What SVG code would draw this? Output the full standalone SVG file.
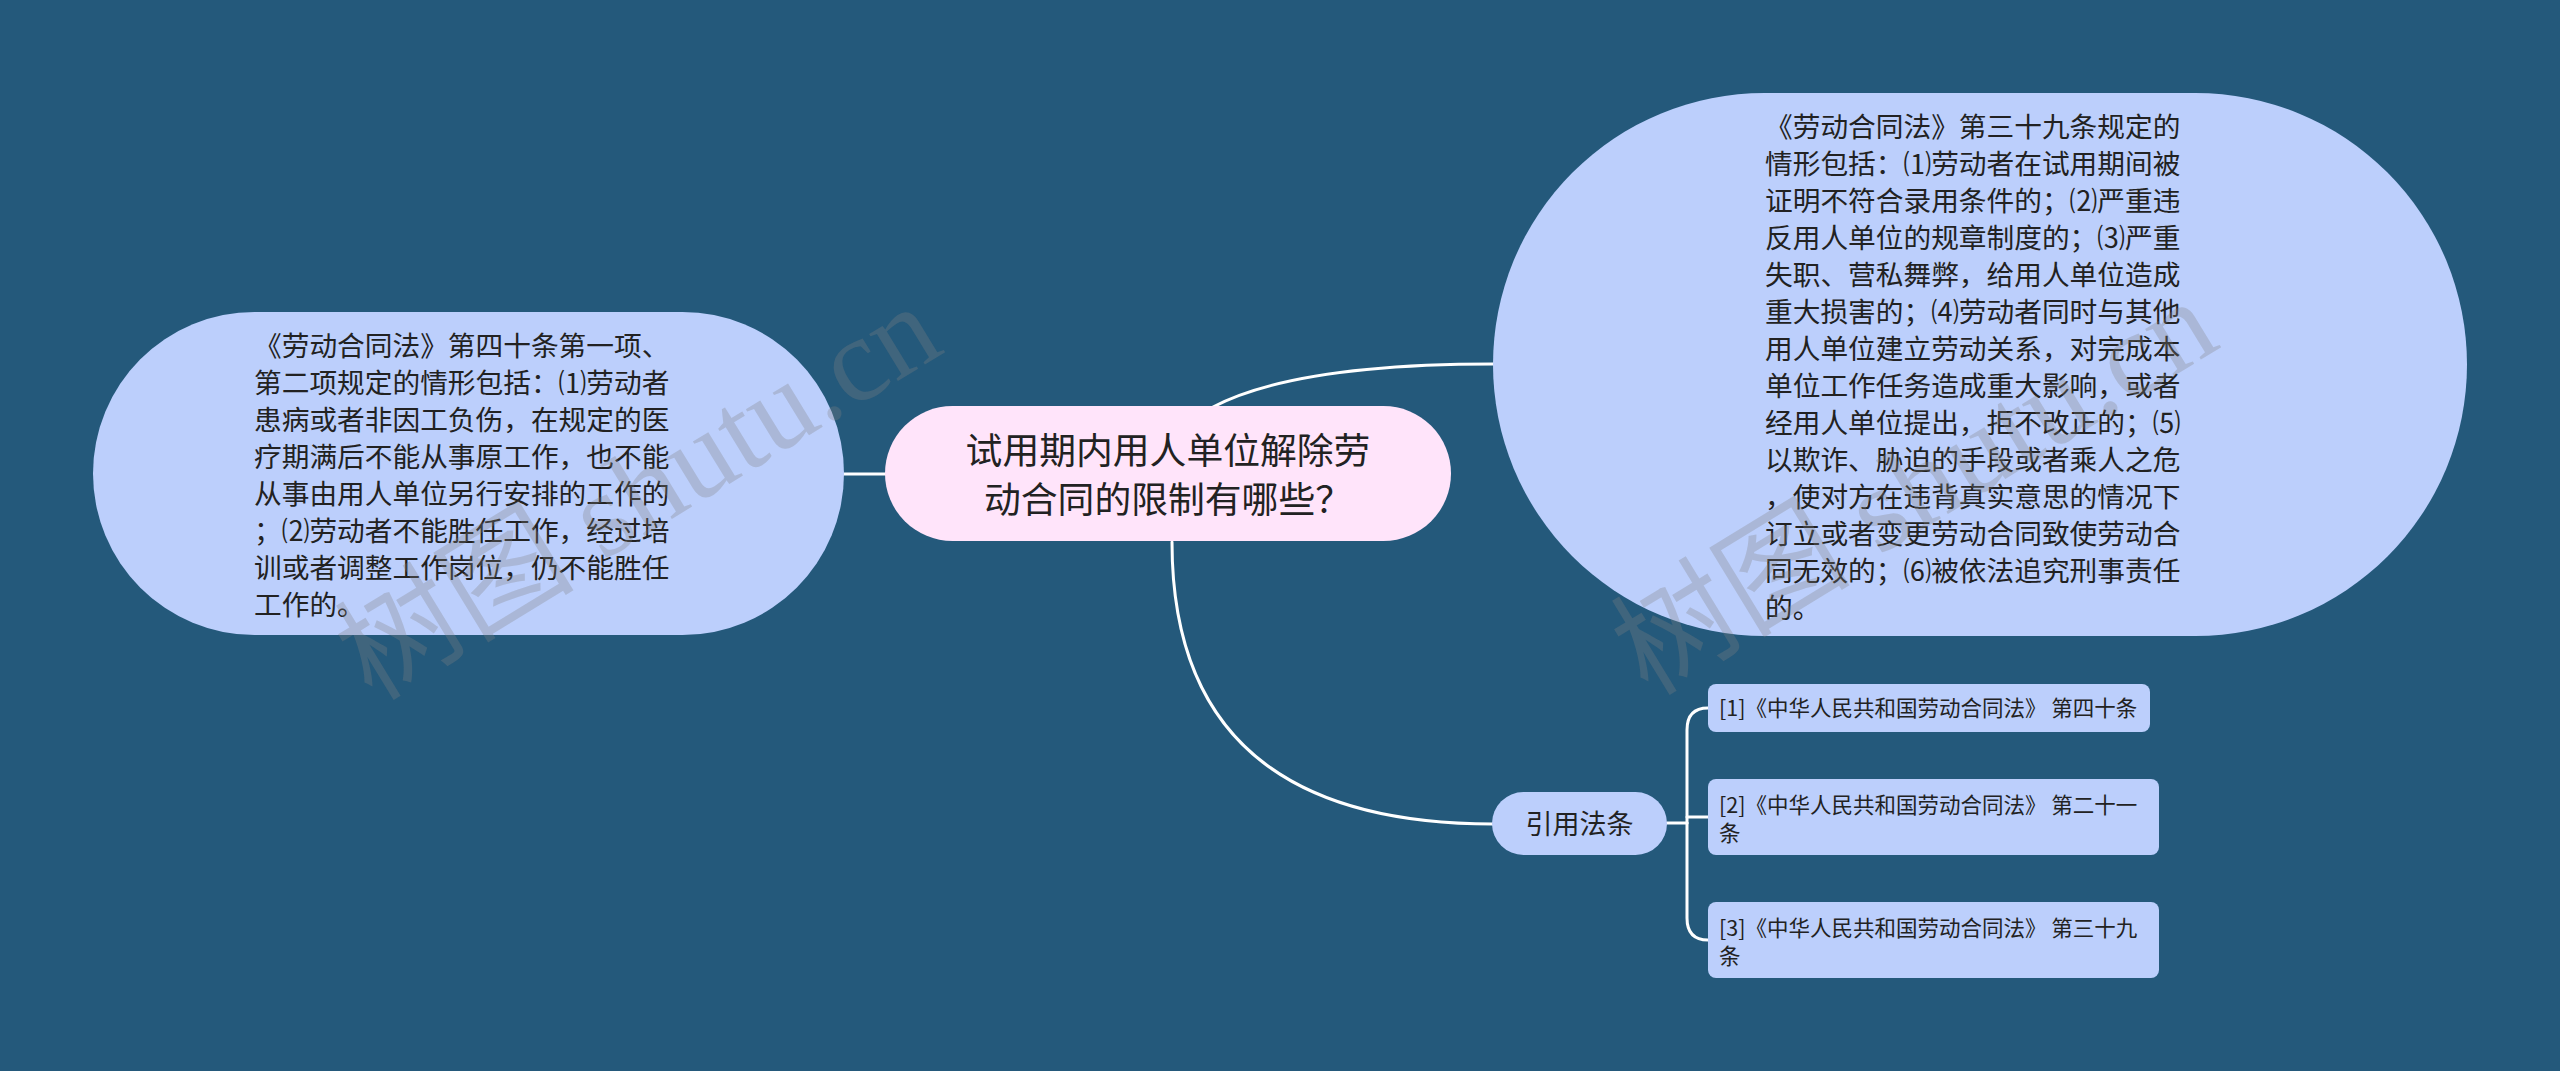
<svg xmlns="http://www.w3.org/2000/svg" width="2560" height="1071" viewBox="0 0 2560 1071">
<defs>
<style>
.bg{fill:#24597b}
.blue{fill:#bccffc}
.pink{fill:#ffe4fa}
.conn{fill:none;stroke:#ffffff;stroke-width:3;stroke-linecap:round}
.t{font-family:"Noto Sans CJK SC","Noto Sans",sans-serif;fill:#222222}
.big{font-size:27.7px}
.main{font-size:36.8px;text-anchor:middle}
.sub{font-size:27px;text-anchor:middle}
.ref{font-size:21.5px}
.wm{font-family:"Liberation Serif","Noto Sans CJK SC",serif;font-size:120px;fill:#808080;fill-opacity:0.3}
</style>
</defs>
<rect class="bg" x="0" y="0" width="2560" height="1071"/>

<g id="connectors">
<path class="conn" d="M844,474 L885,474"/>
<path class="conn" d="M1213,407 Q1295,364 1493,364"/>
<path class="conn" d="M1172,542 Q1172,824 1493,824"/>
<path class="conn" d="M1667,823 L1687,823"/>
<path class="conn" d="M1687,823 L1687,730 Q1687,708 1708,708"/>
<path class="conn" d="M1687,817 L1708,817"/>
<path class="conn" d="M1687,823 L1687,918 Q1687,940 1708,940"/>
</g>

<g id="node-root">
<rect class="pink" x="885" y="406" width="566" height="135" rx="67.5"/>
<text class="t main"><tspan x="1168" y="464">试用期内用人单位解除劳</tspan><tspan x="1168" y="513">动合同的限制有哪些？</tspan></text>
</g>

<g id="node-left">
<rect class="blue" x="93" y="312" width="751" height="323" rx="161.5"/>
<text class="t big">
<tspan x="254" y="356">《劳动合同法》第四十条第一项、</tspan>
<tspan x="254" y="393">第二项规定的情形包括：⑴劳动者</tspan>
<tspan x="254" y="430">患病或者非因工负伤，在规定的医</tspan>
<tspan x="254" y="467">疗期满后不能从事原工作，也不能</tspan>
<tspan x="254" y="504">从事由用人单位另行安排的工作的</tspan>
<tspan x="254" y="541">；⑵劳动者不能胜任工作，经过培</tspan>
<tspan x="254" y="578">训或者调整工作岗位，仍不能胜任</tspan>
<tspan x="254" y="615">工作的。</tspan>
</text>
</g>

<g id="node-right">
<rect class="blue" x="1493" y="93" width="974" height="543" rx="271.5"/>
<text class="t big">
<tspan x="1765" y="137">《劳动合同法》第三十九条规定的</tspan>
<tspan x="1765" y="174">情形包括：⑴劳动者在试用期间被</tspan>
<tspan x="1765" y="211">证明不符合录用条件的；⑵严重违</tspan>
<tspan x="1765" y="248">反用人单位的规章制度的；⑶严重</tspan>
<tspan x="1765" y="285">失职、营私舞弊，给用人单位造成</tspan>
<tspan x="1765" y="322">重大损害的；⑷劳动者同时与其他</tspan>
<tspan x="1765" y="359">用人单位建立劳动关系，对完成本</tspan>
<tspan x="1765" y="396">单位工作任务造成重大影响，或者</tspan>
<tspan x="1765" y="433">经用人单位提出，拒不改正的；⑸</tspan>
<tspan x="1765" y="470">以欺诈、胁迫的手段或者乘人之危</tspan>
<tspan x="1765" y="507">，使对方在违背真实意思的情况下</tspan>
<tspan x="1765" y="544">订立或者变更劳动合同致使劳动合</tspan>
<tspan x="1765" y="581">同无效的；⑹被依法追究刑事责任</tspan>
<tspan x="1765" y="618">的。</tspan>
</text>
</g>

<g id="node-cite">
<rect class="blue" x="1492" y="792" width="175" height="63" rx="31.5"/>
<text class="t sub" x="1579.5" y="834">引用法条</text>
</g>

<g id="node-ref1">
<rect class="blue" x="1708" y="684" width="442" height="48" rx="8"/>
<text class="t ref" x="1719" y="716">[1]《中华人民共和国劳动合同法》 第四十条</text>
</g>

<g id="node-ref2">
<rect class="blue" x="1708" y="779" width="451" height="76" rx="8"/>
<text class="t ref"><tspan x="1719" y="813">[2]《中华人民共和国劳动合同法》 第二十一</tspan><tspan x="1719" y="841">条</tspan></text>
</g>

<g id="node-ref3">
<rect class="blue" x="1708" y="902" width="451" height="76" rx="8"/>
<text class="t ref"><tspan x="1719" y="936">[3]《中华人民共和国劳动合同法》 第三十九</tspan><tspan x="1719" y="964">条</tspan></text>
</g>

<g id="watermarks">
<text class="wm" transform="translate(372,702) rotate(-31.4)">树图 shutu.cn</text>
<text class="wm" transform="translate(1648,697) rotate(-31.4)">树图 shutu.cn</text>
</g>
</svg>
